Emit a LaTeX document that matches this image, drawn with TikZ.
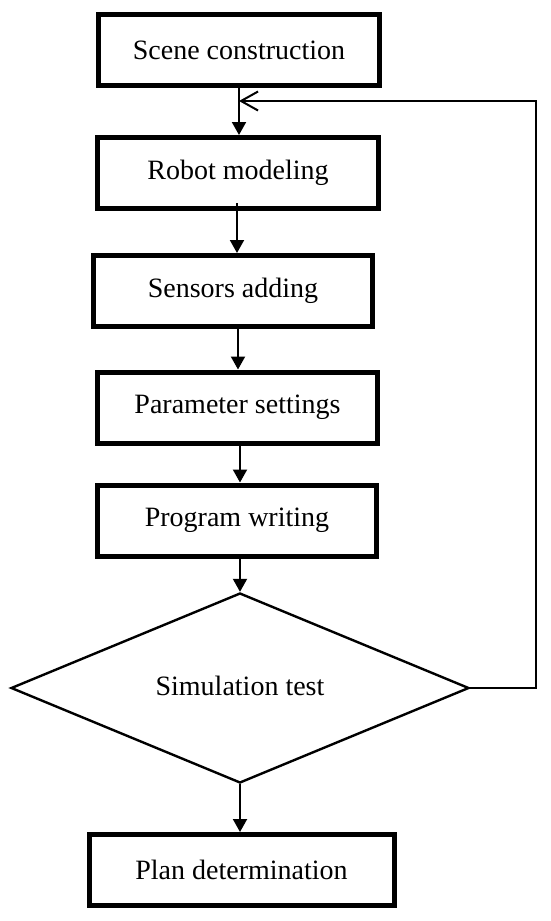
\documentclass[tikz,border=0pt]{standalone}
\usepackage{fontspec}
\setmainfont{Liberation Serif}
\usetikzlibrary{arrows.meta,shapes.geometric}
\tikzset{
  stepbox/.style={draw=black,line width=5pt,rectangle,inner sep=0pt,
    minimum height=71pt,font=\fontsize{28}{32}\selectfont},
  decision/.style={draw=black,line width=2.4pt,diamond,aspect=2.41,inner sep=0pt,
    minimum width=458pt,minimum height=190pt,font=\fontsize{28}{32}\selectfont},
  arr/.style={line width=2pt,-{Triangle[length=13pt,width=14pt]}},
  backarr/.style={line width=2pt,-{Straight Barb[length=17pt,width=19pt]}}
}
\begin{document}
\begin{tikzpicture}[x=1pt,y=-1pt]
\useasboundingbox (0,0) rectangle (550,921);
\node[stepbox,minimum width=281pt] (b1) at (239,50) {Scene construction};
\node[stepbox,minimum width=281pt] (b2) at (238,173) {Robot modeling};
\node[stepbox,minimum width=279pt] (b3) at (233,291) {Sensors adding};
\node[stepbox,minimum width=280pt] (b4) at (237.5,407.5) {Parameter settings};
\node[stepbox,minimum width=279pt] (b5) at (237,520.5) {Program writing};
\node[decision] (d) at (240,688) {\raisebox{4pt}{Simulation test}};
\node[stepbox,minimum width=305pt] (b6) at (241.5,870) {Plan determination};
\coordinate (fbr) at (536,101);
\coordinate (fbl) at (239,101);
\draw[arr] (239,0 |- b1.south) -- (239,0 |- b2.north);
\draw[arr] (237,203) -- (237,0 |- b3.north);
\draw[arr] (238,0 |- b3.south) -- (238,0 |- b4.north);
\draw[arr] (240,0 |- b4.south) -- (240,0 |- b5.north);
\draw[arr] (240,0 |- b5.south) -- (d.north);
\draw[arr] (d.south) -- (240,0 |- b6.north);
\draw[backarr] (d.east) -| (fbr) -- (fbl);
\end{tikzpicture}
\end{document}
